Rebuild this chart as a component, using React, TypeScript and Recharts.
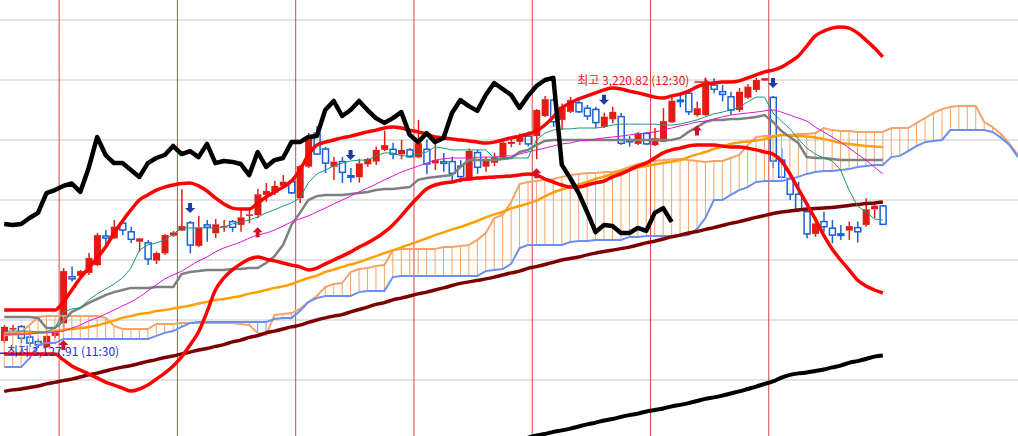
import { ComposedChart, Bar, Line, Scatter, XAxis, YAxis, CartesianGrid, ReferenceLine, ReferenceDot } from 'recharts';

// candles, index 0..104
const candleOpen = [
  3133.0, 3137.0, 3137.8, 3134.3, 3132.8, 3130.9, 3134.7, 3138.9, 3154.4, 3154.7,
  3155.7, 3158.3, 3168.0, 3167.2, 3172.3, 3169.4, 3166.1, 3165.7, 3159.8, 3162.2,
  3168.1, 3169.8, 3172.4, 3164.7, 3171.7, 3168.9, 3170.9, 3172.8, 3171.7, 3174.7,
  3175.0, 3181.7, 3182.4, 3184.7, 3186.1, 3180.6, 3191.1, 3202.3, 3197.0, 3191.1,
  3192.8, 3188.1, 3187.6, 3191.9, 3192.8, 3196.7, 3196.9, 3195.2, 3196.7, 3194.2,
  3196.9, 3192.2, 3192.8, 3192.8, 3191.3, 3187.0, 3195.8, 3191.1, 3192.4, 3194.1,
  3198.7, 3199.4, 3201.3, 3201.3, 3208.0, 3213.3, 3206.7, 3209.4, 3212.4, 3210.6,
  3210.2, 3204.4, 3206.9, 3207.8, 3200.0, 3198.7, 3202.2, 3198.3, 3199.4, 3205.9,
  3213.3, 3215.6, 3208.3, 3208.3, 3218.3, 3216.1, 3214.4, 3210.0, 3214.1, 3216.7,
  3219.8, 3214.2, 3193.3, 3187.2, 3181.9, 3176.1, 3168.7, 3172.8, 3170.6, 3168.7,
  3169.8, 3170.8, 3171.7, 3176.9, 3178.0,
];
const candleHigh = [
  3138.3, 3138.3, 3138.3, 3135.0, 3133.7, 3135.3, 3136.7, 3157.3, 3157.8, 3156.7,
  3162.3, 3169.0, 3170.0, 3173.3, 3173.3, 3171.1, 3167.3, 3166.7, 3162.8, 3168.7,
  3169.7, 3183.6, 3173.0, 3174.7, 3173.3, 3173.7, 3173.3, 3173.3, 3176.7, 3177.0,
  3183.7, 3185.7, 3186.4, 3188.3, 3186.7, 3191.7, 3202.3, 3204.7, 3197.7, 3194.3,
  3194.4, 3190.7, 3193.7, 3194.0, 3197.8, 3203.1, 3199.1, 3200.0, 3197.3, 3206.7,
  3200.2, 3199.0, 3195.7, 3194.4, 3193.3, 3197.2, 3196.7, 3194.4, 3195.8, 3200.2,
  3200.6, 3202.2, 3202.8, 3210.3, 3214.7, 3214.0, 3212.2, 3214.4, 3213.6, 3211.7,
  3211.1, 3209.1, 3211.1, 3209.0, 3201.3, 3202.7, 3202.7, 3204.0, 3210.6, 3215.0,
  3215.8, 3216.7, 3212.8, 3220.82, 3220.6, 3218.3, 3216.1, 3217.3, 3218.7, 3220.7,
  3220.7, 3214.7, 3197.2, 3187.7, 3186.1, 3176.7, 3173.3, 3176.1, 3173.3, 3171.7,
  3172.8, 3172.8, 3180.6, 3179.1, 3178.3,
];
const candleLow = [
  3132.3, 3136.3, 3132.3, 3131.0, 3130.7, 3130.7, 3134.0, 3136.3, 3152.8, 3153.7,
  3155.0, 3158.0, 3165.0, 3167.0, 3168.3, 3165.7, 3162.8, 3158.3, 3158.7, 3161.7,
  3167.7, 3169.7, 3162.2, 3164.3, 3166.1, 3167.3, 3169.4, 3169.4, 3169.4, 3172.3,
  3173.9, 3179.4, 3181.7, 3184.0, 3182.0, 3179.0, 3190.7, 3195.0, 3189.0, 3186.7,
  3185.7, 3185.8, 3185.8, 3191.1, 3191.7, 3196.3, 3193.6, 3193.6, 3194.0, 3193.9,
  3188.7, 3190.0, 3189.4, 3186.1, 3185.8, 3186.5, 3188.7, 3189.4, 3191.3, 3194.0,
  3197.6, 3198.3, 3197.8, 3193.6, 3207.7, 3204.4, 3203.3, 3209.0, 3209.0, 3206.7,
  3203.9, 3204.0, 3205.6, 3198.3, 3197.8, 3198.3, 3198.3, 3198.0, 3199.3, 3205.7,
  3210.9, 3208.3, 3207.8, 3208.0, 3215.6, 3212.8, 3208.3, 3209.3, 3213.7, 3216.0,
  3219.7, 3190.6, 3187.3, 3180.0, 3176.1, 3167.2, 3167.7, 3169.4, 3165.6, 3166.7,
  3166.7, 3165.8, 3171.1, 3173.9, 3171.7,
];
const candleClose = [
  3137.7, 3137.3, 3133.9, 3132.3, 3131.7, 3134.7, 3135.9, 3156.3, 3153.7, 3156.3,
  3160.7, 3168.3, 3167.3, 3171.1, 3170.0, 3166.9, 3167.2, 3160.3, 3162.3, 3168.3,
  3169.2, 3171.3, 3165.0, 3170.8, 3170.9, 3171.9, 3171.3, 3170.9, 3174.2, 3175.2,
  3181.9, 3183.0, 3184.7, 3186.1, 3182.4, 3191.3, 3201.1, 3195.3, 3192.3, 3192.8,
  3189.2, 3187.6, 3192.2, 3193.7, 3196.7, 3198.3, 3195.3, 3196.7, 3194.4, 3198.9,
  3192.0, 3193.3, 3192.2, 3188.9, 3187.8, 3196.4, 3190.9, 3193.3, 3194.2, 3199.1,
  3199.4, 3201.3, 3198.7, 3210.0, 3213.6, 3206.1, 3211.1, 3213.3, 3209.4, 3208.0,
  3205.8, 3207.8, 3209.4, 3198.9, 3199.4, 3202.2, 3198.7, 3200.6, 3206.3, 3213.1,
  3212.8, 3209.4, 3210.6, 3219.1, 3216.9, 3215.2, 3210.0, 3216.1, 3217.8, 3220.0,
  3220.6, 3193.0, 3187.6, 3181.9, 3176.9, 3168.7, 3172.2, 3171.1, 3168.3, 3168.2,
  3171.3, 3169.4, 3176.9, 3178.1, 3171.9,
];

// bollinger bands
const bollUpper = [
  3143.3, 3143.3, 3143.3, 3143.3, 3143.3, 3143.3, 3143.3, 3146.0, 3150.0, 3154.0,
  3157.3, 3160.7, 3164.3, 3169.0, 3173.0, 3176.7, 3180.0, 3181.7, 3183.3, 3184.3,
  3185.0, 3185.5, 3185.7, 3184.7, 3183.0, 3180.7, 3178.7, 3177.3, 3177.0, 3177.0,
  3179.0, 3181.0, 3182.7, 3184.3, 3186.3, 3190.0, 3195.0, 3198.3, 3199.3, 3200.0,
  3200.7, 3201.3, 3202.0, 3202.7, 3203.3, 3204.0, 3204.3, 3204.0, 3203.3, 3202.7,
  3202.0, 3201.0, 3200.7, 3200.3, 3200.0, 3199.7, 3199.3, 3199.0, 3199.3, 3200.0,
  3200.7, 3201.3, 3202.0, 3203.0, 3205.0, 3207.7, 3210.7, 3212.3, 3213.7, 3214.7,
  3215.7, 3216.7, 3217.3, 3217.0, 3216.3, 3215.7, 3215.0, 3214.3, 3214.0, 3214.7,
  3215.3, 3216.3, 3217.7, 3218.7, 3219.0, 3219.3, 3219.3, 3219.7, 3220.7, 3221.7,
  3222.7, 3223.3, 3224.3, 3226.0, 3228.0, 3231.3, 3234.7, 3236.3, 3237.3, 3237.7,
  3237.3, 3235.7, 3233.3, 3230.7, 3227.7,
];
const bollLower = [
  3128.7, 3128.7, 3128.7, 3128.7, 3128.7, 3128.7, 3128.7, 3126.7, 3124.7, 3123.3,
  3122.0, 3120.7, 3119.3, 3118.3, 3117.3, 3116.3, 3117.0, 3118.3, 3120.3, 3122.3,
  3124.7, 3127.7, 3131.7, 3136.0, 3142.7, 3150.0, 3154.0, 3156.7, 3158.7, 3160.3,
  3161.0, 3160.3, 3159.7, 3159.0, 3158.3, 3157.7, 3156.7, 3157.3, 3158.7, 3160.0,
  3161.3, 3162.7, 3164.3, 3165.7, 3167.3, 3169.3, 3171.7, 3174.7, 3178.0, 3181.0,
  3183.7, 3185.0, 3185.7, 3186.0, 3186.7, 3187.0, 3187.3, 3187.5, 3187.7, 3187.8,
  3188.0, 3188.3, 3188.7, 3188.3, 3187.0, 3186.0, 3185.0, 3184.3, 3184.3, 3185.0,
  3185.7, 3186.3, 3187.7, 3188.7, 3190.0, 3191.3, 3192.3, 3194.0, 3195.7, 3196.7,
  3197.3, 3198.0, 3198.3, 3198.3, 3198.3, 3198.0, 3197.7, 3197.7, 3197.3, 3196.7,
  3196.0, 3195.3, 3193.0, 3188.7, 3183.7, 3178.7, 3173.7, 3168.3, 3163.7, 3160.0,
  3156.7, 3153.3, 3151.3, 3150.0, 3149.0,
];

// ichimoku
const lagSpan = [
  3172.0, 3171.7, 3172.0, 3174.0, 3175.7, 3182.3, 3183.3, 3184.7, 3185.5, 3182.7,
  3190.7, 3201.0, 3195.0, 3192.3, 3192.3, 3190.0, 3187.7, 3192.3, 3194.0, 3195.0,
  3198.0, 3195.3, 3196.3, 3194.3, 3198.7, 3192.3, 3193.0, 3192.7, 3192.0, 3188.3,
  3196.0, 3191.0, 3193.3, 3194.0, 3199.3, 3199.3, 3201.0, 3201.3, 3210.0, 3213.0,
  3208.0, 3210.0, 3213.0, 3210.0, 3207.3, 3205.7, 3207.3, 3209.3, 3201.7, 3199.3,
  3202.3, 3199.3, 3200.7, 3209.0, 3213.3, 3211.3, 3209.7, 3215.0, 3219.0, 3217.0,
  3215.0, 3210.7, 3214.7, 3218.0, 3220.0, 3220.7, 3191.7, 3187.3, 3182.3, 3176.0,
  3169.3, 3171.7, 3171.3, 3169.0, 3169.0, 3170.7, 3169.7, 3175.7, 3177.3, 3172.7,
];
const tenkan = [
  3136.3, 3136.3, 3136.3, 3136.3, 3136.0, 3136.0, 3137.3, 3142.7, 3143.7, 3144.0,
  3146.7, 3148.7, 3150.3, 3152.0, 3154.0, 3157.3, 3163.3, 3165.0, 3165.7, 3166.7,
  3168.7, 3170.7, 3170.7, 3170.7, 3170.7, 3170.7, 3171.0, 3172.0, 3172.7, 3173.3,
  3174.3, 3175.7, 3176.7, 3178.0, 3179.0, 3180.7, 3185.7, 3188.7, 3190.0, 3191.3,
  3192.3, 3193.0, 3193.3, 3193.3, 3194.7, 3195.7, 3195.7, 3194.7, 3194.7, 3195.3,
  3196.0, 3197.7, 3197.3, 3196.7, 3196.7, 3196.7, 3196.7, 3196.7, 3194.0, 3194.0,
  3194.0, 3194.0, 3194.0, 3200.0, 3202.3, 3203.3, 3203.7, 3203.7, 3204.0, 3204.0,
  3204.0, 3204.3, 3205.0, 3205.3, 3205.3, 3205.3, 3205.3, 3205.3, 3205.0, 3205.0,
  3205.3, 3206.0, 3206.7, 3207.7, 3208.7, 3209.3, 3210.0, 3211.0, 3212.7, 3214.3,
  3214.3, 3209.0, 3206.3, 3203.7, 3200.3, 3197.3, 3195.3, 3194.0, 3193.0, 3190.0,
  3183.3, 3178.0, 3176.0, 3173.7, 3173.3,
];
const kijun = [
  3141.0, 3141.0, 3141.0, 3141.0, 3140.7, 3137.3, 3137.3, 3139.7, 3142.7, 3144.0,
  3145.7, 3147.0, 3148.3, 3149.3, 3150.0, 3150.7, 3150.7, 3150.7, 3151.0, 3151.0,
  3151.0, 3155.3, 3156.0, 3156.3, 3156.7, 3156.7, 3156.7, 3157.0, 3157.0, 3157.3,
  3157.3, 3159.0, 3161.3, 3165.0, 3171.7, 3175.7, 3180.0, 3181.3, 3181.7, 3181.7,
  3181.7, 3182.0, 3182.3, 3182.7, 3183.3, 3183.7, 3183.7, 3184.0, 3184.3, 3186.7,
  3187.3, 3187.7, 3188.0, 3188.3, 3191.0, 3193.3, 3193.3, 3193.3, 3193.3, 3193.7,
  3194.0, 3196.0, 3196.7, 3198.3, 3199.7, 3200.0, 3200.0, 3200.0, 3200.0, 3200.0,
  3200.0, 3200.0, 3200.0, 3200.0, 3200.0, 3200.0, 3200.0, 3200.0, 3200.0, 3200.0,
  3200.7, 3202.7, 3204.3, 3206.0, 3206.7, 3206.7, 3207.0, 3207.0, 3207.3, 3207.7,
  3208.3, 3206.0, 3203.0, 3201.0, 3199.0, 3194.3, 3194.0, 3194.0, 3193.7, 3193.3,
  3193.3, 3193.3, 3193.3, 3193.3, 3193.3,
];
// leading spans run 16 bars past the last candle
const spanA = [
  3135.7, 3135.7, 3136.0, 3138.3, 3141.0, 3141.3, 3141.3, 3141.3, 3141.3, 3141.3,
  3141.3, 3141.3, 3140.7, 3138.0, 3137.0, 3137.0, 3137.0, 3137.0, 3138.7, 3138.7,
  3138.7, 3139.0, 3139.0, 3139.0, 3139.0, 3139.0, 3139.0, 3139.0, 3138.7, 3138.3,
  3135.7, 3135.0, 3141.7, 3142.0, 3142.3, 3143.7, 3146.0, 3148.0, 3151.0, 3152.0,
  3152.3, 3156.0, 3157.0, 3157.3, 3158.0, 3158.3, 3163.3, 3163.7, 3163.7, 3163.7,
  3163.7, 3163.7, 3164.3, 3164.3, 3164.7, 3165.0, 3166.7, 3169.0, 3174.0, 3175.0,
  3179.3, 3185.3, 3186.0, 3186.3, 3186.7, 3187.0, 3187.7, 3188.3, 3188.7, 3189.0,
  3189.0, 3189.3, 3189.3, 3190.0, 3191.0, 3192.0, 3192.7, 3193.0, 3193.3, 3193.5,
  3193.7, 3193.3, 3193.0, 3192.7, 3193.0, 3193.0, 3194.0, 3195.0, 3198.3, 3201.0,
  3201.3, 3201.3, 3201.7, 3201.7, 3202.0, 3202.0, 3202.3, 3204.0, 3203.3, 3203.0,
  3203.0, 3202.7, 3202.7, 3202.7, 3202.7, 3204.0, 3204.0, 3204.0, 3205.7, 3207.3,
  3209.0, 3210.3, 3211.0, 3211.3, 3211.3, 3211.3, 3206.0, 3204.3, 3202.0, 3198.7,
  3195.0,
];
const spanB = [
  3124.3, 3124.3, 3124.3, 3127.3, 3131.7, 3132.3, 3132.3, 3133.7, 3133.7, 3133.7,
  3133.7, 3133.7, 3133.7, 3133.7, 3133.7, 3133.7, 3133.7, 3133.7, 3134.7, 3135.7,
  3136.3, 3137.7, 3139.0, 3139.3, 3139.3, 3139.3, 3139.3, 3139.3, 3139.3, 3139.3,
  3139.3, 3139.3, 3140.3, 3140.7, 3140.7, 3143.0, 3146.0, 3147.3, 3148.0, 3148.0,
  3148.0, 3148.0, 3149.3, 3149.7, 3149.7, 3149.7, 3154.3, 3154.7, 3154.7, 3154.7,
  3154.7, 3154.7, 3154.7, 3154.7, 3154.7, 3154.7, 3154.7, 3156.3, 3156.7, 3157.0,
  3158.7, 3164.0, 3165.0, 3165.0, 3165.0, 3165.0, 3165.0, 3166.0, 3166.3, 3166.3,
  3166.7, 3166.7, 3166.7, 3166.7, 3167.7, 3167.7, 3168.0, 3168.0, 3168.0, 3168.0,
  3168.0, 3168.3, 3170.3, 3174.0, 3180.0, 3180.0, 3181.7, 3183.3, 3184.3, 3186.0,
  3186.3, 3186.3, 3186.3, 3187.0, 3187.7, 3188.7, 3189.3, 3189.7, 3189.7, 3190.0,
  3190.3, 3191.0, 3191.3, 3191.7, 3191.7, 3194.3, 3194.7, 3196.3, 3198.0, 3199.3,
  3199.7, 3200.0, 3203.3, 3203.3, 3203.3, 3203.3, 3203.3, 3202.7, 3200.7, 3198.3,
  3194.3,
];

// moving averages
const maShort = [
  3135.3, 3135.3, 3135.3, 3135.3, 3135.7, 3135.7, 3136.0, 3136.3, 3137.3, 3138.3,
  3139.7, 3140.7, 3142.0, 3143.3, 3144.7, 3146.0, 3147.7, 3149.7, 3151.7, 3153.7,
  3155.0, 3156.3, 3158.0, 3159.7, 3161.0, 3162.7, 3164.0, 3165.0, 3166.0, 3167.3,
  3168.3, 3169.0, 3170.0, 3171.3, 3172.7, 3173.7, 3174.7, 3176.0, 3177.3, 3178.7,
  3180.0, 3181.3, 3182.7, 3184.0, 3185.3, 3186.7, 3188.0, 3189.3, 3190.3, 3191.3,
  3192.3, 3193.3, 3193.7, 3194.0, 3194.0, 3194.0, 3194.2, 3194.3, 3194.3, 3194.7,
  3194.7, 3195.3, 3196.0, 3196.7, 3197.3, 3198.0, 3198.7, 3199.0, 3199.7, 3200.0,
  3200.3, 3200.7, 3201.0, 3201.3, 3201.7, 3202.0, 3202.3, 3202.7, 3203.3, 3204.0,
  3204.7, 3205.3, 3206.0, 3206.3, 3207.0, 3207.7, 3208.3, 3208.7, 3209.0, 3209.3,
  3209.7, 3210.0, 3209.3, 3208.3, 3207.3, 3206.3, 3204.3, 3202.7, 3201.0, 3199.3,
  3197.3, 3195.3, 3193.3, 3191.0, 3188.7,
];
const maMid = [
  3135.0, 3135.2, 3135.3, 3135.7, 3135.8, 3136.0, 3136.3, 3136.7, 3137.0, 3137.3,
  3137.7, 3138.2, 3139.0, 3139.8, 3140.7, 3141.3, 3142.0, 3142.3, 3143.0, 3143.3,
  3143.8, 3144.3, 3144.8, 3145.5, 3146.0, 3146.7, 3147.0, 3147.5, 3148.0, 3148.8,
  3149.3, 3150.0, 3150.7, 3151.2, 3152.0, 3153.0, 3154.0, 3154.8, 3156.0, 3156.8,
  3157.7, 3158.5, 3159.3, 3160.3, 3161.3, 3162.3, 3163.2, 3164.2, 3165.2, 3166.2,
  3167.2, 3168.3, 3169.2, 3170.2, 3171.0, 3172.0, 3173.0, 3174.2, 3175.2, 3176.0,
  3177.2, 3178.0, 3178.8, 3179.8, 3181.2, 3182.5, 3183.5, 3184.3, 3185.2, 3186.0,
  3187.0, 3187.8, 3188.7, 3189.5, 3190.3, 3190.8, 3191.3, 3191.8, 3192.3, 3192.8,
  3193.3, 3194.3, 3195.2, 3196.0, 3197.0, 3197.8, 3198.7, 3199.2, 3199.5, 3199.8,
  3200.3, 3201.0, 3201.7, 3201.5, 3201.3, 3201.2, 3200.8, 3200.3, 3199.7, 3199.0,
  3198.7, 3198.3, 3198.0, 3197.8, 3197.7,
];
const maLong = [
  3116.2, 3116.7, 3117.0, 3117.5, 3118.0, 3118.7, 3119.2, 3119.8, 3120.3, 3121.0,
  3121.7, 3122.3, 3123.0, 3123.7, 3124.3, 3124.8, 3125.5, 3126.2, 3126.8, 3127.5,
  3128.0, 3128.7, 3129.3, 3130.0, 3130.5, 3131.2, 3131.8, 3132.7, 3133.3, 3134.2,
  3134.8, 3135.7, 3136.3, 3137.0, 3137.7, 3138.3, 3139.2, 3140.0, 3140.7, 3141.3,
  3141.8, 3142.7, 3143.5, 3144.3, 3145.2, 3145.8, 3146.7, 3147.3, 3148.0, 3148.7,
  3149.3, 3150.0, 3150.7, 3151.5, 3152.2, 3152.7, 3153.2, 3153.7, 3154.3, 3155.0,
  3155.7, 3156.3, 3157.2, 3157.8, 3158.5, 3159.2, 3160.0, 3160.5, 3161.0, 3161.7,
  3162.3, 3162.8, 3163.3, 3163.8, 3164.3, 3165.0, 3165.7, 3166.3, 3167.0, 3167.7,
  3168.3, 3169.0, 3169.5, 3170.2, 3170.8, 3171.5, 3172.2, 3172.8, 3173.5, 3174.2,
  3174.8, 3175.5, 3176.0, 3176.3, 3176.7, 3177.0, 3177.2, 3177.3, 3177.5, 3177.8,
  3178.2, 3178.5, 3178.8, 3179.0, 3179.3,
];
// the slowest average only enters the view at bar 62
const maLongerStart = 62;
const maLonger = [
  3100.8, 3101.5, 3102.0, 3102.7, 3103.2, 3103.8, 3104.5, 3105.2, 3105.8, 3106.5,
  3107.0, 3107.7, 3108.3, 3108.8, 3109.5, 3110.0, 3110.5, 3111.2, 3111.7, 3112.3,
  3113.0, 3113.7, 3114.2, 3114.8, 3115.5, 3116.2, 3117.0, 3117.8, 3118.7, 3119.5,
  3120.8, 3121.7, 3122.2, 3122.5, 3123.0, 3123.5, 3124.2, 3124.8, 3125.7, 3126.3,
  3127.0, 3127.8, 3128.2,
];

const buyAt = [7, 30, 63, 82];
const sellAt = [22, 41, 71, 91];
const sessionBreaks = [6.5, 20.5, 34.5, 48.5, 62.5, 76.5, 90.5];
const gridPrices = [3240, 3220, 3200, 3180, 3160, 3140, 3120];

const highMark = { i: 83, price: 3220.82, label: '최고 3,220.82 (12:30)' };
const lowMark = { i: -0.5, price: 3127.91, label: '최저 3,127.91 (11:30)' };

const UP = '#e41b12';
const DOWN = '#1b5fd6';
const SPAN_A_COLOR = '#f4a468';
const SPAN_B_COLOR = '#6a8ff0';
const FONT = "'Noto Sans CJK KR', 'Noto Sans', sans-serif";

const rows = spanA.map((a, i) => {
  const has = i < candleClose.length;
  return {
    i,
    range: has ? [candleLow[i], candleHigh[i]] : null,
    o: has ? candleOpen[i] : null,
    h: has ? candleHigh[i] : null,
    l: has ? candleLow[i] : null,
    c: has ? candleClose[i] : null,
    upper: bollUpper[i],
    lower: bollLower[i],
    lag: lagSpan[i],
    tenkan: tenkan[i],
    kijun: kijun[i],
    spanA: a,
    spanB: spanB[i],
    maShort: maShort[i],
    maMid: maMid[i],
    maLong: maLong[i],
    maLonger: i >= maLongerStart ? maLonger[i - maLongerStart] : undefined,
  };
});

const buyMarks = buyAt.map((i) => ({ i, v: candleLow[i] }));
const sellMarks = sellAt.map((i) => ({ i, v: candleHigh[i] }));

function Candle(props: any) {
  const { x, y, width, height, payload } = props;
  if (!payload || payload.o == null || !Number.isFinite(y) || !Number.isFinite(height)) return null;
  const { o, h, l, c } = payload;
  const top0 = height < 0 ? y + height : y;
  const span = Math.abs(height);
  const mid = x + width / 2;
  const yAt = (v: number) => (h === l ? top0 : top0 + ((h - v) / (h - l)) * span);
  const up = c >= o;
  const color = up ? UP : DOWN;
  const bodyTop = yAt(Math.max(o, c));
  const bodyBot = yAt(Math.min(o, c));
  const bodyH = Math.max(bodyBot - bodyTop, 1.5);
  return (
    <g>
      <line x1={mid} x2={mid} y1={top0} y2={bodyTop} stroke={color} strokeWidth={1.5} />
      <line x1={mid} x2={mid} y1={bodyTop + bodyH} y2={top0 + span} stroke={color} strokeWidth={1.5} />
      {up ? (
        <rect x={mid - 3.5} y={bodyTop} width={7} height={bodyH} fill={color} />
      ) : (
        <rect x={mid - 3} y={bodyTop} width={6} height={bodyH} fill="none" stroke={color} strokeWidth={1.5} />
      )}
    </g>
  );
}

function UpArrow({ cx, cy }: any) {
  const t = cy + 9;
  return (
    <path
      d={`M${cx} ${t} L${cx + 5} ${t + 5} L${cx + 2} ${t + 5} L${cx + 2} ${t + 10} L${cx - 2} ${t + 10} L${cx - 2} ${t + 5} L${cx - 5} ${t + 5} Z`}
      fill="#d3102b"
    />
  );
}

function DownArrow({ cx, cy }: any) {
  const b = cy - 8;
  return (
    <path
      d={`M${cx} ${b} L${cx + 5} ${b - 5} L${cx + 2} ${b - 5} L${cx + 2} ${b - 10} L${cx - 2} ${b - 10} L${cx - 2} ${b - 5} L${cx - 5} ${b - 5} Z`}
      fill="#1a3aa8"
    />
  );
}

function HighLabel({ cx, cy }: any) {
  const ly = cy + 4.5;
  return (
    <g>
      <text x={cx - 16} y={ly} textAnchor="end" dominantBaseline="middle" fill="#f01414" fontSize={12} fontFamily={FONT}>
        {highMark.label}
      </text>
      <line x1={cx - 11} x2={cx} y1={ly} y2={ly} stroke="#f01414" strokeWidth={1.5} />
      <path d={`M${cx + 4} ${ly} L${cx - 1} ${ly - 3.5} L${cx - 1} ${ly + 3.5} Z`} fill="#f01414" />
    </g>
  );
}

function LowLabel({ cx, cy }: any) {
  const ly = cy - 4;
  return (
    <g>
      <line x1={cx} x2={cx + 6} y1={ly + 1} y2={ly + 1} stroke="#1f2fd0" strokeWidth={1.5} />
      <text x={cx + 7} y={ly} dominantBaseline="middle" fill="#1f2fd0" fontSize={12} fontFamily={FONT}>
        {lowMark.label}
      </text>
    </g>
  );
}

export default function App() {
  return (
    <div style={{ position: 'fixed', left: 0, top: 0, width: 1018, height: 436, background: '#fff', overflow: 'hidden' }}>
      <ComposedChart width={1018} height={436} data={rows} margin={{ top: 0, right: 0, bottom: 0, left: 0 }}>
        <XAxis dataKey="i" type="number" domain={[-0.5, 120]} ticks={sessionBreaks} allowDataOverflow hide />
        <YAxis type="number" domain={[3101.33, 3246.67]} ticks={gridPrices} allowDataOverflow hide />
        <CartesianGrid vertical={false} horizontalValues={gridPrices} stroke="#d9d9d9" strokeWidth={1.5} />
        <CartesianGrid horizontal={false} verticalValues={sessionBreaks} stroke="#d94444" strokeWidth={1} />

        {spanA.map((a, i) => (
          <ReferenceLine
            key={`hatch-${i}`}
            segment={[{ x: i, y: a }, { x: i, y: spanB[i] }]}
            stroke={a >= spanB[i] ? SPAN_A_COLOR : SPAN_B_COLOR}
            strokeWidth={1}
            ifOverflow="hidden"
          />
        ))}

        <Line dataKey="spanA" type="linear" stroke={SPAN_A_COLOR} strokeWidth={2} dot={false} activeDot={false} isAnimationActive={false} />
        <Line dataKey="spanB" type="linear" stroke={SPAN_B_COLOR} strokeWidth={2} dot={false} activeDot={false} isAnimationActive={false} />
        <Line dataKey="maLong" type="monotone" stroke="#7d0000" strokeWidth={3.5} dot={false} activeDot={false} isAnimationActive={false} />
        <Line dataKey="maMid" type="monotone" stroke="#ffa000" strokeWidth={2.5} dot={false} activeDot={false} isAnimationActive={false} />
        <Line dataKey="kijun" type="linear" stroke="#7f7f7f" strokeWidth={2.5} dot={false} activeDot={false} isAnimationActive={false} />
        <Line dataKey="maShort" type="monotone" stroke="#dd14dd" strokeWidth={1} dot={false} activeDot={false} isAnimationActive={false} />
        <Line dataKey="tenkan" type="linear" stroke="#15997f" strokeWidth={1} dot={false} activeDot={false} isAnimationActive={false} />
        <Line dataKey="upper" type="monotone" stroke="#ff0000" strokeWidth={3.5} dot={false} activeDot={false} isAnimationActive={false} />
        <Line dataKey="lower" type="monotone" stroke="#ff0000" strokeWidth={3.5} dot={false} activeDot={false} isAnimationActive={false} />

        <Bar dataKey="range" barSize={7} shape={(p: any) => <Candle {...p} />} isAnimationActive={false} />

        <Line dataKey="lag" type="linear" stroke="#000" strokeWidth={4.5} strokeLinejoin="round" dot={false} activeDot={false} isAnimationActive={false} />
        <Line dataKey="maLonger" type="monotone" stroke="#000" strokeWidth={4} dot={false} activeDot={false} isAnimationActive={false} />

        <Scatter data={buyMarks} dataKey="v" shape={(p: any) => <UpArrow {...p} />} isAnimationActive={false} />
        <Scatter data={sellMarks} dataKey="v" shape={(p: any) => <DownArrow {...p} />} isAnimationActive={false} />

        <ReferenceDot x={highMark.i} y={highMark.price} ifOverflow="visible" shape={(p: any) => <HighLabel {...p} />} />
        <ReferenceDot x={lowMark.i} y={lowMark.price} ifOverflow="visible" shape={(p: any) => <LowLabel {...p} />} />
      </ComposedChart>
    </div>
  );
}
